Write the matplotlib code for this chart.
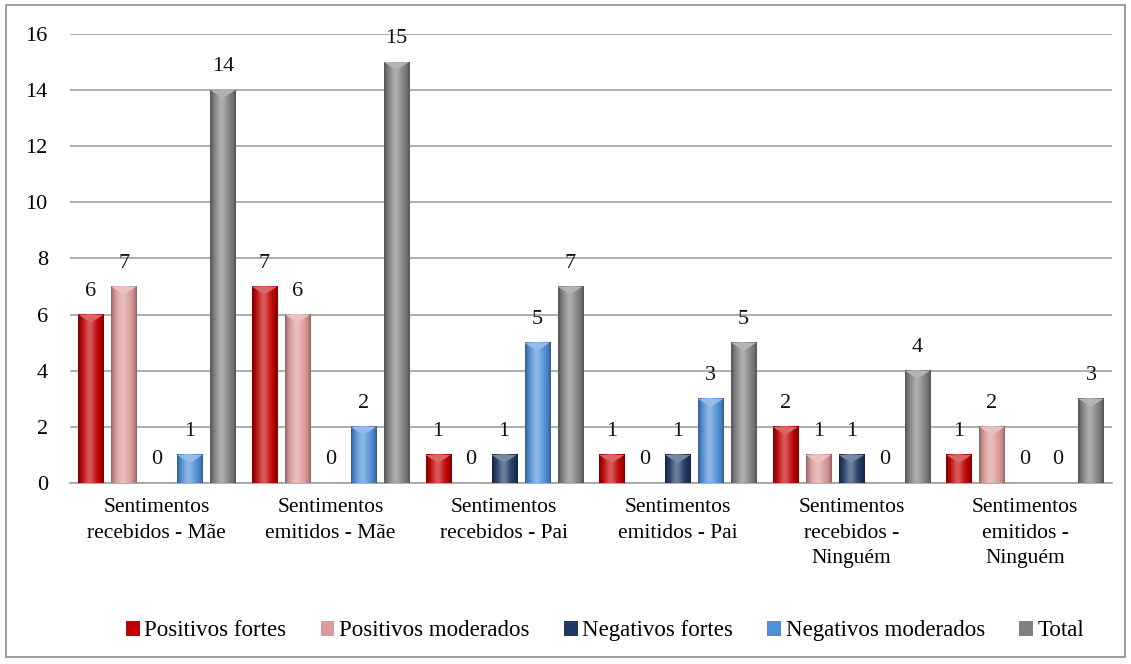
import matplotlib.pyplot as plt
import numpy as np
from matplotlib.colors import to_rgb
from matplotlib.patches import Rectangle, Polygon

plt.rcParams['font.family'] = ['Liberation Serif', 'DejaVu Serif']

categories = ["Sentimentos\nrecebidos - Mãe", "Sentimentos\nemitidos - Mãe",
              "Sentimentos\nrecebidos - Pai", "Sentimentos\nemitidos - Pai",
              "Sentimentos\nrecebidos -\nNinguém", "Sentimentos\nemitidos -\nNinguém"]
series = ["Positivos fortes", "Positivos moderados", "Negativos fortes",
          "Negativos moderados", "Total"]
positivos_fortes = [6, 7, 1, 1, 2, 1]
positivos_moderados = [7, 6, 0, 0, 1, 2]
negativos_fortes = [0, 0, 1, 1, 1, 0]
negativos_moderados = [1, 2, 5, 3, 0, 0]
total = [14, 15, 7, 5, 4, 3]
values = [positivos_fortes, positivos_moderados, negativos_fortes,
          negativos_moderados, total]
colors = ["#C00000", "#DE9A9A", "#1F3864", "#4F8FD8", "#808080"]


def gradient(color):
    # dark edges, lighter middle, like the bevelled office bars
    c = np.array(to_rgb(color))
    t = np.linspace(-1, 1, 40)
    light = 0.35 * np.exp(-((t + 0.1) / 0.45) ** 2)
    dark = 0.35 * np.abs(t) ** 4
    row = c[None, :] * (1 - dark[:, None]) + (1 - c[None, :]) * light[:, None]
    return np.clip(row[None, :, :], 0, 1)


fig = plt.figure(figsize=(11.31, 6.64), dpi=100)
fig.patches.append(Rectangle((0.005, 0.01), 0.99, 0.982, transform=fig.transFigure,
                             fill=False, edgecolor="#8c8c8c", linewidth=1.2))
ax = fig.add_axes([0.0619, 0.2726, 0.9211, 0.6762])

x = np.arange(len(categories))
step = 0.19
width = 0.144
for i, (vals, c) in enumerate(zip(values, colors)):
    pos = x + (i - 2) * step
    ax.bar(pos, vals, width, color=c, zorder=3, label=series[i])
    img = gradient(c)
    top = np.array(to_rgb(c)) * 0.6 + 0.4
    for p, v in zip(pos, vals):
        if v > 0:
            ax.imshow(img, extent=(p - width / 2, p + width / 2, 0, v),
                      aspect="auto", zorder=4, interpolation="bilinear")
            tri = Polygon([(p - width / 2, v), (p + width / 2, v),
                           (p + width * 0.3, v - 0.12), (p, v - 0.28),
                           (p - width * 0.3, v - 0.12)],
                          closed=True, facecolor=top, edgecolor="none", zorder=5)
            ax.add_patch(tri)
        ax.annotate(str(v), (p, v), xytext=(0, 10), textcoords="offset points",
                    ha="center", va="bottom", fontsize=16, color="#111111")

ax.set_xlim(-0.5, len(categories) - 0.5)
ax.set_ylim(0, 16)
ax.set_yticks(range(0, 17, 2))
ax.set_xticks(x)
ax.set_xticklabels(categories, fontsize=15.5, linespacing=1.45)
ax.tick_params(axis="y", length=0, pad=16, labelsize=16)
ax.tick_params(axis="x", length=0, pad=11)
ax.grid(axis="y", color="#a0a0a0", linewidth=1.2, zorder=0)
for s in ["top", "right", "left"]:
    ax.spines[s].set_visible(False)
ax.spines["bottom"].set_color("#a0a0a0")
ax.spines["bottom"].set_linewidth(1.2)

fig.legend(loc="lower center", bbox_to_anchor=(0.535, 0.003), ncol=5, frameon=False,
           fontsize=16.5, handlelength=0.6, handleheight=0.6, handletextpad=0.2,
           columnspacing=1.5)

plt.savefig("out.png", dpi=100)
